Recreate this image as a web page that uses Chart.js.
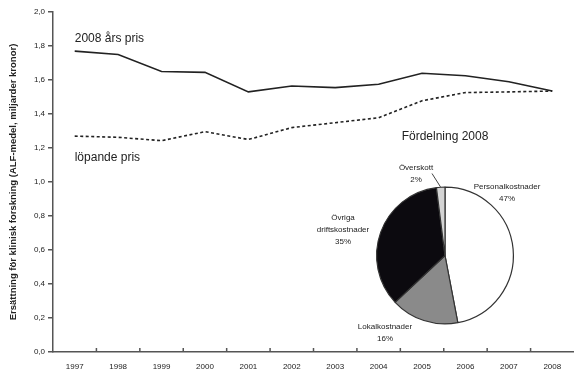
<!DOCTYPE html>
<html><head><meta charset="utf-8">
<script src="https://cdn.jsdelivr.net/npm/chart.js@4/dist/chart.umd.min.js"></script>
<style>
body{margin:0;background:#fff}
#wrap{position:relative;width:574px;height:376px}
canvas{position:absolute}
#line{left:0;top:0}
#pie{left:300px;top:120px}
</style></head><body>
<div id="wrap">
<canvas id="line" width="574" height="376"></canvas>
<canvas id="pie" width="274" height="230"></canvas>
</div>
<script>
const years = ['1997','1998','1999','2000','2001','2002','2003','2004','2005','2006','2007','2008'];
const fixedPrice = [1.77,1.75,1.65,1.645,1.53,1.565,1.555,1.575,1.64,1.625,1.59,1.535];
const currentPrice = [1.27,1.263,1.243,1.296,1.25,1.32,1.349,1.378,1.478,1.526,1.53,1.535];
const seriesNames = ['2008 års pris','löpande pris'];
const yTickLabels = ['0,0','0,2','0,4','0,6','0,8','1,0','1,2','1,4','1,6','1,8','2,0'];
const yTitle = 'Ersättning för klinisk forskning (ALF-medel, miljarder kronor)';
const pieTitle = 'Fördelning 2008';
const pieCategories = ['Personalkostnader','Lokalkostnader','Övriga driftskostnader','Överskott'];
const pieLabelLines = [['Personalkostnader','47%'],['Lokalkostnader','16%'],['Övriga','driftskostnader','35%'],['Överskott','2%']];
const pieValues = [47,16,35,2];

const FONT = '"Liberation Sans Narrow","Liberation Sans",Arial,sans-serif';
const TXT = '#222';

const lineLabels = {
  id:'lineLabels',
  afterDatasetsDraw(chart){
    const ctx = chart.ctx;
    const offs = [-12, 22];
    ctx.save();
    ctx.font = '12px ' + FONT;
    ctx.fillStyle = TXT;
    ctx.textAlign = 'left';
    ctx.textBaseline = 'middle';
    chart.data.datasets.forEach((ds, i) => {
      const p = chart.getDatasetMeta(i).data[0];
      ctx.fillText(seriesNames[i], p.x, p.y + offs[i]);
    });
    // inward x ticks at category boundaries
    const xs = chart.scales.x, ya = chart.scales.y;
    const step = xs.getPixelForValue(1) - xs.getPixelForValue(0);
    ctx.strokeStyle = '#555';
    ctx.lineWidth = 1.5;
    for (let i = 0; i < years.length; i++) {
      const x = xs.getPixelForValue(i) + step/2;
      if (x > chart.chartArea.right - 2) continue;
      ctx.beginPath();
      ctx.moveTo(x, ya.bottom);
      ctx.lineTo(x, ya.bottom - 4);
      ctx.stroke();
    }
    ctx.restore();
  }
};

new Chart(document.getElementById('line'), {
  type:'line',
  data:{
    labels: years,
    datasets:[
      {label: seriesNames[0], data: fixedPrice, borderColor:'#222', borderWidth:1.6, pointRadius:0, tension:0, fill:false},
      {label: seriesNames[1], data: currentPrice, borderColor:'#222', borderWidth:1.6, borderDash:[3,2.5], pointRadius:0, tension:0, fill:false}
    ]
  },
  options:{
    responsive:false,
    animation:false,
    devicePixelRatio:1,
    layout:{padding:{top:12,right:0,left:0,bottom:0}},
    plugins:{legend:{display:false}, tooltip:{enabled:false}},
    scales:{
      x:{
        type:'category',
        offset:true,
        afterFit(s){ s.height = 24; },
        grid:{display:true, drawOnChartArea:false, drawTicks:false, offset:true, color:'rgba(0,0,0,0)'},
        border:{display:true, color:'#555', width:1.5},
        ticks:{font:{family:FONT, size:8}, color:TXT, padding:10, maxRotation:0, autoSkip:false}
      },
      y:{
        min:0, max:2,
        afterFit(s){ s.width = 53; },
        afterBuildTicks(s){ s.ticks = yTickLabels.map((t,i)=>({value: i*0.2})); },
        grid:{display:true, drawOnChartArea:false, drawTicks:true, tickLength:5, color:'#555', lineWidth:1.5},
        border:{display:true, color:'#555', width:1.5},
        ticks:{font:{family:FONT, size:8}, color:TXT, padding:3, callback:(v,i)=>yTickLabels[i]},
        title:{display:true, text:yTitle, font:{family:FONT, size:9.5, weight:'bold'}, color:TXT, padding:{top:8,bottom:0}}
      }
    }
  },
  plugins:[lineLabels]
});

const pieLabels = {
  id:'pieLabels',
  afterDatasetsDraw(chart){
    const ctx = chart.ctx;
    const arcs = chart.getDatasetMeta(0).data;
    const cx = arcs[0].x, cy = arcs[0].y, r = arcs[0].outerRadius;
    const offs = [[62,-69],[-60,71],[-102,-38],[-29,-88]];
    ctx.save();
    ctx.fillStyle = TXT;
    ctx.textAlign = 'center';
    ctx.textBaseline = 'middle';
    ctx.font = '12px ' + FONT;
    ctx.fillText(pieTitle, cx, cy - 119);
    ctx.font = '8px ' + FONT;
    pieLabelLines.forEach((lines, i) => {
      const [dx, dy] = offs[i];
      lines.forEach((t, k) => ctx.fillText(t, cx + dx, cy + dy + k*12));
    });
    // leader line for the small slice
    const a = arcs[3];
    const mid = (a.startAngle + a.endAngle)/2;
    const ex = cx + Math.cos(mid)*r, ey = cy + Math.sin(mid)*r;
    ctx.strokeStyle = '#444';
    ctx.lineWidth = 1;
    ctx.beginPath();
    ctx.moveTo(cx - 13, cy - 82);
    ctx.lineTo(ex, ey);
    ctx.stroke();
    ctx.restore();
  }
};

new Chart(document.getElementById('pie'), {
  type:'pie',
  data:{
    labels: pieCategories,
    datasets:[{data: pieValues, backgroundColor:['#ffffff','#8a8a8a','#0c0a0f','#d4d4d4'], borderColor:'#333', borderWidth:1.2}]
  },
  options:{
    responsive:false,
    animation:false,
    devicePixelRatio:1,
    layout:{padding:{left:76,right:60,top:66,bottom:25}},
    plugins:{legend:{display:false}, tooltip:{enabled:false}}
  },
  plugins:[pieLabels]
});
</script>
</body></html>
